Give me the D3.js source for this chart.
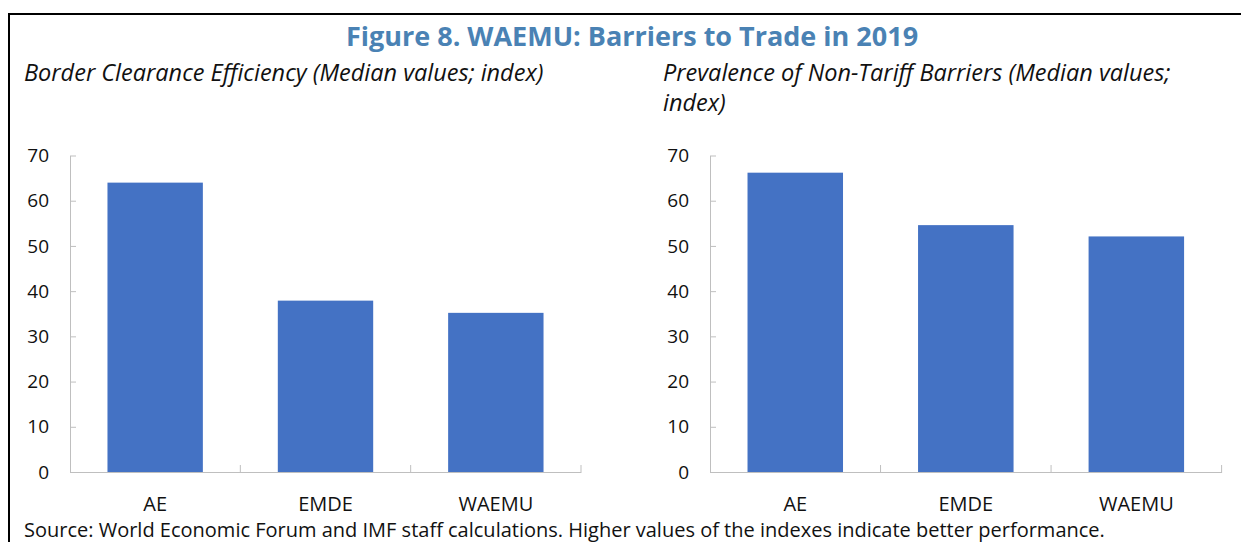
<!DOCTYPE html>
<html>
<head>
<meta charset="utf-8">
<script src="https://cdn.jsdelivr.net/npm/d3@7"></script>
<style>
  body { margin: 0; background: #fff; }
  svg { display: block; }
</style>
</head>
<body>
<div id="container"></div>
<script>
/* DATA */
const categories = ["AE", "EMDE", "WAEMU"];
const clearanceValues = [64.0, 37.9, 35.2];
const barrierValues = [66.2, 54.6, 52.1];
const yTicks = [0, 10, 20, 30, 40, 50, 60, 70];

const titleText = "Figure 8. WAEMU: Barriers to Trade in 2019";
const leftTitle = ["Border Clearance Efficiency (Median values; index)"];
const rightTitle = ["Prevalence of Non-Tariff Barriers (Median values;", "index)"];
const sourceText = "Source: World Economic Forum and IMF staff calculations. Higher values of the indexes indicate better performance.";

/* CONSTANTS */
const width = 1241;
const height = 542;
const font = "'Open Sans', 'Noto Sans', sans-serif";
const barColor = "#4472C4";
const axisColor = "#BFBFBF";

const svg = d3.select("#container")
  .append("svg")
  .attr("width", width)
  .attr("height", height)
  .style("font-family", font);

// frame (right and bottom edges fall outside the picture)
svg.append("rect")
  .attr("x", 9)
  .attr("y", 14)
  .attr("width", 1300)
  .attr("height", 600)
  .attr("fill", "none")
  .attr("stroke", "#000")
  .attr("stroke-width", 2);

svg.append("text")
  .attr("x", 632)
  .attr("y", 46)
  .attr("text-anchor", "middle")
  .style("font-size", "27px")
  .style("font-weight", "bold")
  .style("fill", "#4A82B4")
  .text(titleText);

svg.append("text")
  .attr("x", 24)
  .attr("y", 537)
  .style("font-size", "20px")
  .style("fill", "#111")
  .text(sourceText);

function drawPanel(values, subtitle, left, right, titleX) {
  const g = svg.append("g");

  const x = d3.scaleBand()
    .domain(categories)
    .range([left, right])
    .paddingInner(0.44)
    .paddingOuter(0.22);

  const y = d3.scaleLinear()
    .domain([0, 70])
    .range([472, 155.5]);

  g.append("text")
    .attr("x", titleX)
    .attr("y", 81)
    .style("font-size", "23.5px")
    .style("font-style", "italic")
    .style("fill", "#111")
    .selectAll("tspan")
    .data(subtitle)
    .join("tspan")
    .attr("x", titleX)
    .attr("dy", (d, i) => i === 0 ? 0 : 30)
    .text(d => d);

  g.selectAll("rect.bar")
    .data(values)
    .join("rect")
    .attr("class", "bar")
    .attr("x", (d, i) => x(categories[i]))
    .attr("y", d => y(d))
    .attr("width", x.bandwidth())
    .attr("height", d => y(0) - y(d))
    .attr("fill", barColor);

  // y axis, ticks pointing inward
  const yAxis = g.append("g")
    .attr("transform", `translate(${left},0)`)
    .call(d3.axisLeft(y).tickValues(yTicks).tickSizeInner(-6).tickSizeOuter(0).tickPadding(21));
  yAxis.selectAll("line, path").attr("stroke", axisColor);
  yAxis.selectAll("text")
    .style("font-family", font)
    .style("font-size", "19px")
    .style("fill", "#111");

  // x axis with separators between categories
  const xAxis = g.append("g")
    .attr("transform", `translate(0,${y(0)})`)
    .call(d3.axisBottom(x).tickSize(0).tickPadding(25));
  xAxis.select("path").attr("stroke", axisColor);
  xAxis.selectAll("text")
    .style("font-family", font)
    .style("font-size", "20px")
    .style("fill", "#111");

  const start = x.range()[0];
  xAxis.selectAll("line.sep")
    .data(d3.range(1, categories.length + 1))
    .join("line")
    .attr("class", "sep")
    .attr("x1", i => start + i * x.step())
    .attr("x2", i => start + i * x.step())
    .attr("y1", 0)
    .attr("y2", -7)
    .attr("stroke", axisColor);
}

drawPanel(clearanceValues, leftTitle, 70, 581, 24);
drawPanel(barrierValues, rightTitle, 710, 1221.6, 663);
</script>
</body>
</html>
